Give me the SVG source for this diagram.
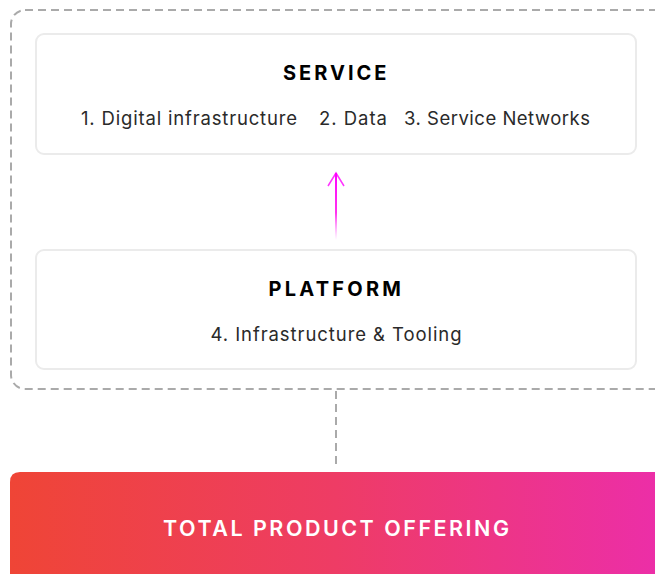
<svg xmlns="http://www.w3.org/2000/svg" width="655" height="574" viewBox="0 0 655 574">
<defs>
<style>
.box{fill:#fff;stroke:#ebebeb;stroke-width:2}
.dash{fill:none;stroke:#aaaaaa;stroke-width:2;stroke-dasharray:8 5}
.title{font-family:Inter,"Open Sans",sans-serif;font-weight:700;font-size:20px;letter-spacing:2.5px;fill:#000;text-anchor:middle}
.item{font-family:Inter,"Open Sans",sans-serif;font-weight:400;font-size:18.5px;fill:#2a2a2a;text-anchor:middle}
.tpo{font-family:Inter,"Open Sans",sans-serif;font-weight:600;font-size:21.5px;letter-spacing:2px;fill:#fff;text-anchor:middle}
</style>
<linearGradient id="bar" x1="0" y1="0" x2="1" y2="0">
<stop offset="0" stop-color="#ef4536"/>
<stop offset="0.5" stop-color="#ee3c65"/>
<stop offset="1" stop-color="#ec2ea8"/>
</linearGradient>
<linearGradient id="arr" x1="0" y1="172" x2="0" y2="240" gradientUnits="userSpaceOnUse">
<stop offset="0" stop-color="#ff00ff"/>
<stop offset="0.6" stop-color="#ff33ee"/>
<stop offset="1" stop-color="#ff66ff" stop-opacity="0"/>
</linearGradient>
</defs>
<rect class="dash" x="11" y="10" width="660" height="379" rx="14"/>
<g id="service">
<rect class="box" x="36" y="34" width="600" height="120" rx="8"/>
<text class="title" x="336" y="80" textLength="106">SERVICE</text>
<text class="item" x="189" y="125" textLength="216">1. Digital infrastructure</text>
<text class="item" x="353" y="125" textLength="68">2. Data</text>
<text class="item" x="497" y="125" textLength="186">3. Service Networks</text>
</g>
<g id="platform">
<rect class="box" x="36" y="250" width="600" height="119" rx="8"/>
<text class="title" x="336" y="296" textLength="135">PLATFORM</text>
<text class="item" x="336" y="341" textLength="251">4. Infrastructure &amp; Tooling</text>
</g>
<g id="total">
<path d="M10 482 Q10 472 20 472 L660 472 L660 580 L10 580 Z" fill="url(#bar)"/>
<text class="tpo" x="337" y="536" textLength="348">TOTAL PRODUCT OFFERING</text>
</g>
<g id="connectors">
<path d="M336 240 L336 173" stroke="url(#arr)" stroke-width="2" fill="none"/>
<path d="M328 186 L336 173 L344 186" stroke="#ff00ff" stroke-width="1.5" fill="none" stroke-opacity="0.8"/>
<path class="dash" d="M336 391 L336 466"/>
</g>
</svg>
